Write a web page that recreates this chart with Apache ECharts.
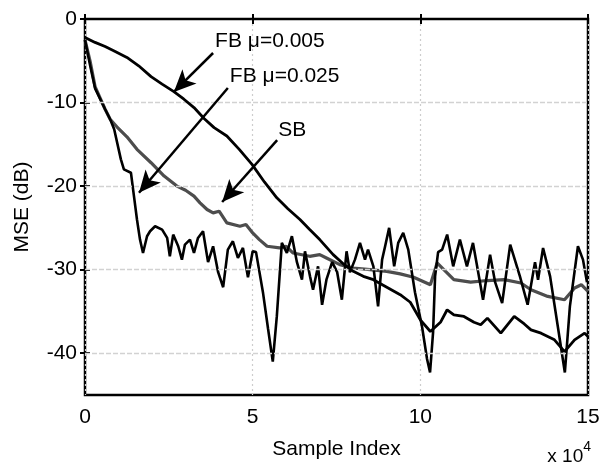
<!DOCTYPE html>
<html>
<head>
<meta charset="utf-8">
<script src="https://cdn.jsdelivr.net/npm/echarts@6/dist/echarts.min.js"></script>
<style>html,body{margin:0;padding:0;background:#fff}#c{width:603px;height:468px}</style>
</head>
<body>
<div id="c"></div>
<script>
// x in units of 10^4 samples, y in dB
const xTicks = [0, 5, 10, 15];
const yTicks = [0, -10, -20, -30, -40];

const fb005 = [[0,-2.2],[0.3,-2.8],[0.6,-3.3],[0.9,-3.9],[1.25,-4.6],[1.6,-5.6],[1.97,-6.9],[2.3,-7.8],[2.65,-8.7],[2.95,-9.6],[3.25,-10.6],[3.55,-11.9],[3.85,-13.0],[4.23,-14.0],[4.6,-15.6],[4.98,-17.4],[5.35,-19.5],[5.72,-21.4],[6.05,-22.7],[6.41,-24.0],[6.7,-25.2],[7.0,-26.4],[7.4,-28.2],[7.7,-29.3],[8.0,-30.2],[8.3,-30.8],[8.6,-31.2],[9.0,-32.1],[9.4,-33.0],[9.7,-33.9],[10.0,-36.0],[10.3,-37.4],[10.6,-36.3],[10.8,-34.8],[11.0,-35.4],[11.3,-35.6],[11.6,-36.3],[11.8,-36.6],[12.0,-35.8],[12.4,-37.6],[12.8,-35.6],[13.1,-36.5],[13.3,-37.2],[13.6,-37.6],[14.0,-38.4],[14.3,-39.8],[14.6,-38.4],[14.9,-37.6],[15,-38.0]];

const sb = [[0,-2.5],[0.15,-5],[0.3,-8.1],[0.6,-10.8],[0.75,-12],[0.95,-12.9],[1.25,-14.1],[1.55,-15.6],[1.97,-17.2],[2.36,-18.8],[2.74,-20.0],[3.0,-20.5],[3.25,-21.2],[3.43,-22.0],[3.64,-22.8],[3.82,-23.2],[4.0,-23.0],[4.23,-24.4],[4.62,-24.8],[4.8,-24.6],[5.0,-25.6],[5.2,-26.4],[5.43,-27.2],[5.8,-27.4],[6.0,-27.2],[6.2,-28.0],[6.7,-28.4],[7.0,-28.2],[7.2,-28.6],[7.6,-29.4],[8.0,-29.8],[8.5,-30.0],[9.0,-30.2],[9.4,-30.5],[9.8,-30.9],[10.3,-31.8],[10.5,-29.2],[10.7,-30.0],[11.0,-31.2],[11.5,-31.5],[12.0,-31.3],[12.5,-31.2],[13.0,-31.6],[13.3,-32.4],[13.8,-33.2],[14.3,-33.6],[14.6,-32.2],[14.8,-31.8],[15,-32.6]];

const fb025 = [[0,-2.5],[0.15,-5.5],[0.3,-8.3],[0.6,-10.8],[0.75,-12.0],[0.87,-13.2],[1.07,-16.8],[1.16,-18.0],[1.37,-18.4],[1.46,-21.2],[1.55,-24.0],[1.64,-26.4],[1.73,-28.0],[1.85,-26.0],[1.94,-25.4],[2.09,-24.8],[2.3,-25.2],[2.45,-26.2],[2.53,-28.4],[2.63,-25.8],[2.78,-27.2],[2.89,-28.8],[2.98,-27.0],[3.13,-26.4],[3.25,-28.0],[3.37,-26.2],[3.52,-25.4],[3.67,-29.1],[3.82,-27.2],[3.97,-30.3],[4.12,-32.1],[4.26,-27.6],[4.41,-26.6],[4.56,-28.6],[4.71,-27.4],[4.86,-30.9],[5.0,-27.8],[5.1,-27.9],[5.31,-32.8],[5.46,-37.1],[5.6,-41.0],[5.72,-35.6],[5.87,-26.8],[6.02,-28.0],[6.17,-26.0],[6.32,-29.1],[6.47,-31.2],[6.56,-27.8],[6.71,-30.8],[6.8,-32.4],[6.95,-29.6],[7.07,-34.2],[7.2,-31.2],[7.37,-29.1],[7.52,-30.3],[7.66,-33.6],[7.8,-27.8],[7.9,-30.3],[8.05,-28.8],[8.2,-26.8],[8.35,-28.8],[8.44,-27.6],[8.6,-29.6],[8.74,-34.4],[8.86,-28.8],[8.95,-27.2],[9.07,-25.0],[9.22,-29.6],[9.34,-26.8],[9.49,-25.6],[9.64,-27.6],[9.84,-32.7],[10.05,-36.8],[10.2,-40.7],[10.29,-42.3],[10.38,-37.5],[10.44,-30.8],[10.53,-27.9],[10.65,-27.6],[10.8,-25.8],[10.98,-29.6],[11.18,-26.4],[11.39,-29.6],[11.57,-26.8],[11.72,-30.2],[11.87,-33.6],[12.08,-28.2],[12.23,-31.5],[12.44,-34.0],[12.68,-27.0],[12.97,-30.8],[13.2,-34.2],[13.42,-29.1],[13.51,-31.2],[13.66,-27.4],[13.87,-30.8],[14.1,-36.8],[14.31,-42.3],[14.46,-34.4],[14.7,-27.2],[14.85,-28.8],[14.97,-31.5]];

// annotation arrows: [start, tip] in data coords
const arrowFB005 = [[3.82,-4.07],[2.65,-8.73]];
const arrowFB025 = [[4.26,-8.25],[1.61,-20.8]];
const arrowSB = [[5.73,-14.5],[4.09,-21.9]];
// annotation labels: [x, y, text]
const labels = [[3.88,-2.6,'FB μ=0.005'],[4.32,-6.8,'FB μ=0.025'],[5.76,-13.3,'SB']];

const FONT = "'Liberation Sans', Arial, Helvetica, sans-serif";
const chart = echarts.init(document.getElementById('c'), null, {renderer: 'canvas'});

function arrowLine(a) {
  return [{coord: a[0]}, {coord: a[1]}];
}
const tickStyle = {color: '#000', width: 2};

chart.setOption({
  animation: false,
  backgroundColor: '#fff',
  grid: {left: 85, right: 15, top: 19, bottom: 73, show: true, borderColor: '#000', borderWidth: 2.5, containLabel: false},
  xAxis: [{
    type: 'value', min: 0, max: 15, interval: 5,
    name: 'Sample Index', nameLocation: 'middle', nameGap: 44,
    nameTextStyle: {fontFamily: FONT, fontSize: 21, color: '#000'},
    axisLine: {show: false},
    axisTick: {show: true, inside: true, length: 5, lineStyle: tickStyle},
    axisLabel: {fontFamily: FONT, fontSize: 21, color: '#000', margin: 12},
    splitLine: {show: true, lineStyle: {color: '#cdcdcd', width: 1.2, type: [2, 3]}}
  }, {
    type: 'value', min: 0, max: 15, interval: 5, position: 'top',
    axisLine: {show: false},
    axisTick: {show: true, inside: true, length: 5, lineStyle: tickStyle},
    axisLabel: {show: false},
    splitLine: {show: false}
  }],
  yAxis: [{
    type: 'value', min: -45, max: 0,
    name: 'MSE (dB)', nameLocation: 'middle', nameGap: 52,
    nameTextStyle: {fontFamily: FONT, fontSize: 21, color: '#000'},
    axisLine: {show: false},
    axisTick: {show: true, inside: true, length: 5, customValues: yTicks, lineStyle: tickStyle},
    axisLabel: {fontFamily: FONT, fontSize: 21, color: '#000', margin: 8, customValues: yTicks},
    splitLine: {show: false}
  }, {
    type: 'value', min: -45, max: 0, position: 'right',
    axisLine: {show: false},
    axisTick: {show: true, inside: true, length: 5, customValues: yTicks, lineStyle: tickStyle},
    axisLabel: {show: false, customValues: yTicks},
    splitLine: {show: false}
  }],
  graphic: [{
    type: 'text', right: 12, bottom: 2,
    style: {
      text: '{a|x 10}{b|4}', fill: '#000',
      rich: {a: {fontFamily: FONT, fontSize: 19, verticalAlign: 'bottom'}, b: {fontFamily: FONT, fontSize: 14, verticalAlign: 'top', padding: [0,0,12,0]}}
    }
  }],
  series: [
    {
      type: 'line', data: [], z: 1, silent: true,
      markLine: {
        silent: true, symbol: ['none', 'none'], animation: false,
        label: {show: false},
        lineStyle: {color: '#d2d2d2', width: 1.3, type: [5, 2]},
        emphasis: {disabled: true},
        data: yTicks.filter(v => v !== 0).map(v => ({yAxis: v}))
      }
    },
    {
      name: 'SB', type: 'line', data: sb, showSymbol: false, z: 3,
      lineStyle: {color: '#4d4d4d', width: 3.2}
    },
    {
      name: 'FB 0.025', type: 'line', data: fb025, showSymbol: false, z: 4,
      lineStyle: {color: '#000', width: 2.6}
    },
    {
      name: 'FB 0.005', type: 'line', data: fb005, showSymbol: false, z: 5,
      lineStyle: {color: '#000', width: 2.8},
      markLine: {
        silent: true, animation: false,
        symbol: ['none', 'arrow'], symbolSize: [15, 22],
        label: {show: false},
        lineStyle: {color: '#000', width: 2.5, type: 'solid'},
        emphasis: {disabled: true},
        data: [arrowLine(arrowFB005), arrowLine(arrowFB025), arrowLine(arrowSB)]
      },
      markPoint: {
        silent: true, animation: false,
        symbol: 'circle', symbolSize: 0,
        label: {show: true, position: 'right', distance: 0, color: '#000', fontFamily: FONT, fontSize: 21,
                formatter: p => p.data.txt},
        data: labels.map(l => ({coord: [l[0], l[1]], txt: l[2]}))
      }
    }
  ]
});
</script>
</body>
</html>
